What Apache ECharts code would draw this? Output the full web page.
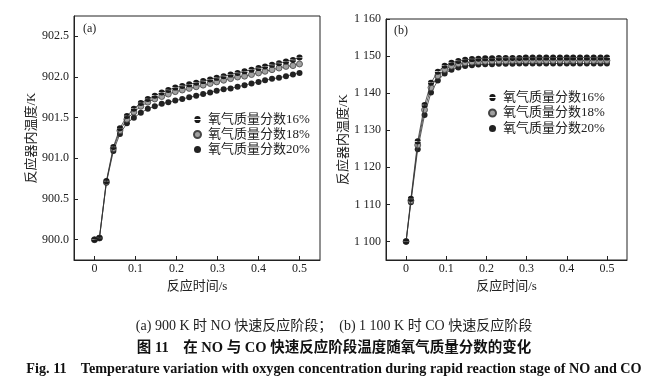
<!DOCTYPE html>
<html><head><meta charset="utf-8">
<script src="https://cdn.jsdelivr.net/npm/echarts@6/dist/echarts.min.js"></script>
<style>html,body{margin:0;padding:0;background:#fff}#c{width:659px;height:380px}</style>
</head><body><div id="c"></div>
<script>
const timeS = [0, 0.012, 0.029, 0.046, 0.062, 0.079, 0.096, 0.113, 0.130, 0.147, 0.164, 0.180, 0.197, 0.214, 0.231, 0.248, 0.265, 0.282, 0.298, 0.315, 0.332, 0.349, 0.366, 0.383, 0.400, 0.416, 0.433, 0.450, 0.467, 0.484, 0.500];
const tempA16 = [900.00, 900.02, 900.72, 901.14, 901.37, 901.52, 901.61, 901.68, 901.73, 901.77, 901.81, 901.84, 901.87, 901.89, 901.91, 901.93, 901.95, 901.97, 901.99, 902.01, 902.03, 902.05, 902.07, 902.09, 902.11, 902.13, 902.15, 902.17, 902.19, 902.21, 902.24];
const tempA18 = [900.00, 900.02, 900.71, 901.12, 901.34, 901.48, 901.57, 901.64, 901.69, 901.73, 901.76, 901.79, 901.82, 901.84, 901.86, 901.88, 901.90, 901.92, 901.94, 901.96, 901.98, 902.00, 902.01, 902.03, 902.05, 902.07, 902.09, 902.11, 902.13, 902.14, 902.16];
const tempA20 = [900.00, 900.02, 900.70, 901.09, 901.30, 901.43, 901.50, 901.56, 901.61, 901.64, 901.67, 901.69, 901.71, 901.73, 901.75, 901.77, 901.79, 901.81, 901.83, 901.85, 901.86, 901.88, 901.90, 901.92, 901.94, 901.96, 901.98, 901.99, 902.01, 902.03, 902.05];
const tempB16 = [1100, 1111.5, 1127.0, 1136.8, 1142.8, 1145.8, 1147.4, 1148.2, 1148.7, 1149.0, 1149.2, 1149.3, 1149.4, 1149.4, 1149.5, 1149.5, 1149.5, 1149.5, 1149.6, 1149.6, 1149.6, 1149.6, 1149.6, 1149.6, 1149.6, 1149.6, 1149.6, 1149.6, 1149.6, 1149.6, 1149.6];
const tempB18 = [1100, 1111.0, 1126.0, 1135.5, 1141.5, 1144.7, 1146.4, 1147.3, 1147.9, 1148.2, 1148.4, 1148.5, 1148.6, 1148.7, 1148.7, 1148.7, 1148.8, 1148.8, 1148.8, 1148.8, 1148.8, 1148.8, 1148.8, 1148.8, 1148.8, 1148.8, 1148.8, 1148.8, 1148.8, 1148.8, 1148.8];
const tempB20 = [1100, 1110.6, 1124.9, 1134.1, 1140.2, 1143.4, 1145.3, 1146.3, 1146.9, 1147.3, 1147.5, 1147.7, 1147.8, 1147.8, 1147.9, 1147.9, 1147.9, 1148.0, 1148.0, 1148.0, 1148.0, 1148.0, 1148.0, 1148.0, 1148.0, 1148.0, 1148.0, 1148.0, 1148.0, 1148.0, 1148.0];
const seriesNames = ['氧气质量分数16%', '氧气质量分数18%', '氧气质量分数20%'];
const xTicks = [0, 0.1, 0.2, 0.3, 0.4, 0.5];
const yTicksA = [900.0, 900.5, 901.0, 901.5, 902.0, 902.5];
const yTicksB = [1100, 1110, 1120, 1130, 1140, 1150, 1160];

const FONT = "'Liberation Serif','Noto Sans CJK SC',serif";
const halfDisc = 'path://M0,4.6A4,4 0 0 1 8,4.6ZM0,5.6A4,4 0 0 0 8,5.6Z';
const markers = [
  {symbol: halfDisc, itemStyle: {color: '#1a1a1a', borderWidth: 0}},
  {symbol: 'circle', itemStyle: {color: '#a0a0a0', borderColor: '#444', borderWidth: 0.8}},
  {symbol: 'circle', itemStyle: {color: '#222', borderWidth: 0}}
];
const zip = (xs, ys) => xs.map((x, i) => [x, ys[i]]);

function xAxis(gi) {
  return {
    type: 'value', gridIndex: gi, min: -0.05, max: 0.55,
    name: '反应时间/s', nameLocation: 'middle', nameGap: 15,
    nameTextStyle: {fontFamily: FONT, fontSize: 13, color: '#222'},
    axisLine: {show: true, onZero: false, lineStyle: {color: '#222', width: 1}},
    axisTick: {show: true, inside: true, length: 4, customValues: xTicks, lineStyle: {color: '#222'}},
    axisLabel: {customValues: xTicks, fontFamily: FONT, fontSize: 12, color: '#222', margin: 3,
      formatter: v => v === 0 ? '0' : String(v)},
    splitLine: {show: false}
  };
}
function yAxis(gi, min, max, ticks, fmt, gap) {
  return {
    type: 'value', gridIndex: gi, min: min, max: max,
    name: '反应器内温度/K', nameLocation: 'middle', nameGap: gap, nameRotate: 90,
    nameTextStyle: {fontFamily: FONT, fontSize: 13, color: '#222'},
    axisLine: {show: true, onZero: false, lineStyle: {color: '#222', width: 1}},
    axisTick: {show: true, inside: true, length: 4, customValues: ticks, lineStyle: {color: '#222'}},
    axisLabel: {customValues: ticks, fontFamily: FONT, fontSize: 12, color: '#222', margin: 5, formatter: fmt},
    splitLine: {show: false}
  };
}
function mkSeries(gi, arrs) {
  return arrs.map((ys, i) => ({
    name: seriesNames[i], type: 'line', xAxisIndex: gi, yAxisIndex: gi,
    data: zip(timeS, ys), symbol: markers[i].symbol, symbolSize: 6,
    showAllSymbol: true, itemStyle: markers[i].itemStyle,
    lineStyle: {color: '#333', width: 0.8}, animation: false, z: 3 - i
  }));
}
const legendData = seriesNames.map((n, i) => ({name: n, icon: i === 0 ? halfDisc : 'circle'}));
function legend(left, top, gap) {
  return {left: left, top: top, orient: 'vertical', itemWidth: 7, itemHeight: 7, itemGap: gap,
    data: legendData, textStyle: {fontFamily: FONT, fontSize: 13, color: '#222', padding: [0, 0, 0, 2]}, selectedMode: false};
}

const chart = echarts.init(document.getElementById('c'), null, {renderer: 'canvas'});
chart.setOption({
  backgroundColor: '#fff',
  animation: false,
  grid: [
    {left: 74, top: 16, width: 246, height: 244, show: true, borderColor: '#222', borderWidth: 1, backgroundColor: 'transparent'},
    {left: 386, top: 19, width: 241, height: 241, show: true, borderColor: '#222', borderWidth: 1, backgroundColor: 'transparent'}
  ],
  xAxis: [xAxis(0), xAxis(1)],
  yAxis: [
    yAxis(0, 899.75, 902.75, yTicksA, v => v.toFixed(1), 34),
    yAxis(1, 1095, 1160, yTicksB, v => String(v).replace(/^(\d)(\d{3})$/, '$1 $2'), 34)
  ],
  legend: [legend(188, 108, 2), legend(483, 86, 2.5)],
  title: [
    {text: '(a)', left: 78, top: 18, textStyle: {fontFamily: FONT, fontSize: 12, fontWeight: 'normal', color: '#222'}},
    {text: '(b)', left: 389, top: 20, textStyle: {fontFamily: FONT, fontSize: 12, fontWeight: 'normal', color: '#222'}},
    {text: '(a) 900 K 时 NO 快速反应阶段；  (b) 1 100 K 时 CO 快速反应阶段', left: 329, top: 314, textAlign: 'center',
      textStyle: {fontFamily: FONT, fontSize: 14, fontWeight: 'normal', color: '#222'}},
    {text: '图 11    在 NO 与 CO 快速反应阶段温度随氧气质量分数的变化', left: 329, top: 336, textAlign: 'center',
      textStyle: {fontFamily: FONT, fontSize: 14.5, fontWeight: 'bold', color: '#111'}},
    {text: 'Fig. 11    Temperature variation with oxygen concentration during rapid reaction stage of NO and CO', left: 329, top: 357, textAlign: 'center',
      textStyle: {fontFamily: FONT, fontSize: 14.2, fontWeight: 'bold', color: '#111'}}
  ],
  series: [].concat(mkSeries(0, [tempA16, tempA18, tempA20]), mkSeries(1, [tempB16, tempB18, tempB20]))
});
</script></body></html>
